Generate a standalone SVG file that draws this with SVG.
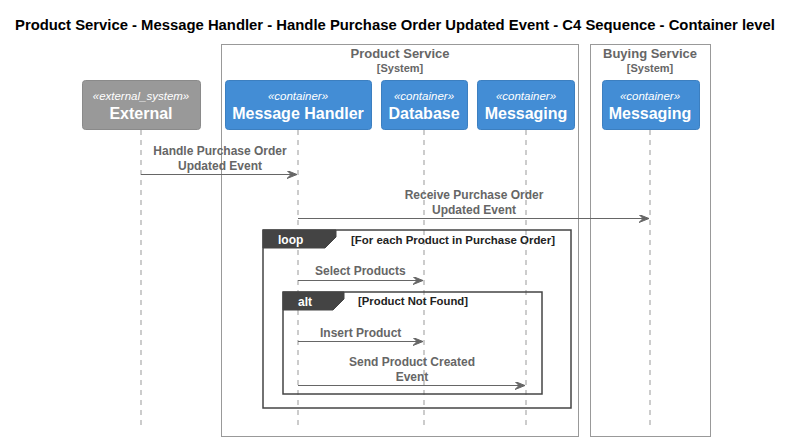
<svg xmlns="http://www.w3.org/2000/svg" width="793" height="442" viewBox="0 0 793 442">
<defs>
<marker id="ah" markerWidth="12" markerHeight="10" refX="10" refY="4" orient="auto" markerUnits="userSpaceOnUse">
<polygon points="0,0 10,4 0,8 4,4" fill="#666666" stroke="#666666" stroke-width="1"/>
</marker>
<style>
.title{font-family:"Liberation Sans",Arial,sans-serif;font-size:14px;font-weight:bold;fill:#000}
.bnd{fill:none;stroke:#999999;stroke-width:1}
.bl{font-family:"Liberation Sans",Arial,sans-serif;font-size:13px;font-weight:bold;fill:#666666;text-anchor:middle}
.bs{font-family:"Liberation Sans",Arial,sans-serif;font-size:11px;font-weight:bold;fill:#666666;text-anchor:middle}
.cont{fill:#438DD5;stroke:#3C7FC0;stroke-width:1}
.ext{fill:#999999;stroke:#8A8A8A;stroke-width:1}
.st{font-family:"Liberation Sans",Arial,sans-serif;font-size:11.5px;font-style:italic;fill:#FFFFFF;text-anchor:middle}
.nm{font-family:"Liberation Sans",Arial,sans-serif;font-size:16px;font-weight:bold;fill:#FFFFFF;text-anchor:middle}
.life{stroke:#999999;stroke-width:1;stroke-dasharray:5,5}
.msg{stroke:#666666;stroke-width:1;fill:none}
.ml{font-family:"Liberation Sans",Arial,sans-serif;font-size:12px;font-weight:bold;fill:#666666}
.frame{fill:none;stroke:#444444;stroke-width:1.5}
.tab{fill:#444444;stroke:#444444}
.ft{font-family:"Liberation Sans",Arial,sans-serif;font-size:12px;font-weight:bold;fill:#FFFFFF}
.fg{font-family:"Liberation Sans",Arial,sans-serif;font-size:11px;font-weight:bold;fill:#222222}
</style>
</defs>
<rect width="793" height="442" fill="#FFFFFF"/>
<text class="title" x="15" y="30" textLength="760" lengthAdjust="spacingAndGlyphs">Product Service - Message Handler - Handle Purchase Order Updated Event - C4 Sequence - Container level</text>

<g id="boundary-product-service">
<rect class="bnd" x="221.5" y="44.5" width="357" height="392"/>
<text class="bl" x="400" y="58">Product Service</text>
<text class="bs" x="400" y="72">[System]</text>
</g>
<g id="boundary-buying-service">
<rect class="bnd" x="590.5" y="44.5" width="120" height="392"/>
<text class="bl" x="650" y="58">Buying Service</text>
<text class="bs" x="650" y="72">[System]</text>
</g>

<g id="lifelines">
<line class="life" x1="141" y1="130" x2="141" y2="430"/>
<line class="life" x1="298" y1="130" x2="298" y2="430"/>
<line class="life" x1="424" y1="130" x2="424" y2="430"/>
<line class="life" x1="526" y1="130" x2="526" y2="430"/>
<line class="life" x1="650" y1="130" x2="650" y2="430"/>
</g>

<g id="external">
<rect class="ext" x="82.5" y="80.5" width="118" height="49" rx="3"/>
<text class="st" x="141" y="100">«external_system»</text>
<text class="nm" x="141" y="119">External</text>
</g>
<g id="message-handler">
<rect class="cont" x="225.5" y="80.5" width="146" height="49" rx="3"/>
<text class="st" x="298" y="100">«container»</text>
<text class="nm" x="298" y="119">Message Handler</text>
</g>
<g id="database">
<rect class="cont" x="381.5" y="80.5" width="86" height="49" rx="3"/>
<text class="st" x="424" y="100">«container»</text>
<text class="nm" x="424" y="119">Database</text>
</g>
<g id="messaging-product">
<rect class="cont" x="477.5" y="80.5" width="97" height="49" rx="3"/>
<text class="st" x="526" y="100">«container»</text>
<text class="nm" x="526" y="119">Messaging</text>
</g>
<g id="messaging-buying">
<rect class="cont" x="602.5" y="80.5" width="97" height="49" rx="3"/>
<text class="st" x="650" y="100">«container»</text>
<text class="nm" x="650" y="119">Messaging</text>
</g>

<g id="frames">
<rect class="frame" x="263" y="230" width="308" height="178"/>
<polygon class="tab" points="263,230 336,230 336,237 325,248 263,248"/>
<text class="ft" x="278" y="244">loop</text>
<text class="fg" x="351" y="244" textLength="204" lengthAdjust="spacingAndGlyphs">[For each Product in Purchase Order]</text>
<rect class="frame" x="283" y="292" width="259" height="102"/>
<polygon class="tab" points="283,292 344,292 344,299 333,310 283,310"/>
<text class="ft" x="298" y="306">alt</text>
<text class="fg" x="358" y="305" textLength="110" lengthAdjust="spacingAndGlyphs">[Product Not Found]</text>
</g>

<g id="connectors">
<line class="msg" x1="141" y1="174.5" x2="297" y2="174.5" marker-end="url(#ah)"/>
<text class="ml" x="220" y="155" text-anchor="middle">Handle Purchase Order</text>
<text class="ml" x="220" y="170" text-anchor="middle">Updated Event</text>
<line class="msg" x1="298" y1="218.5" x2="649" y2="218.5" marker-end="url(#ah)"/>
<text class="ml" x="474" y="199" text-anchor="middle">Receive Purchase Order</text>
<text class="ml" x="474" y="214" text-anchor="middle">Updated Event</text>
<line class="msg" x1="298" y1="280.5" x2="423" y2="280.5" marker-end="url(#ah)"/>
<text class="ml" x="315" y="275">Select Products</text>
<line class="msg" x1="298" y1="341.5" x2="423" y2="341.5" marker-end="url(#ah)"/>
<text class="ml" x="320" y="337">Insert Product</text>
<line class="msg" x1="298" y1="385.5" x2="525" y2="385.5" marker-end="url(#ah)"/>
<text class="ml" x="412" y="366" text-anchor="middle">Send Product Created</text>
<text class="ml" x="412" y="381" text-anchor="middle">Event</text>
</g>
</svg>
